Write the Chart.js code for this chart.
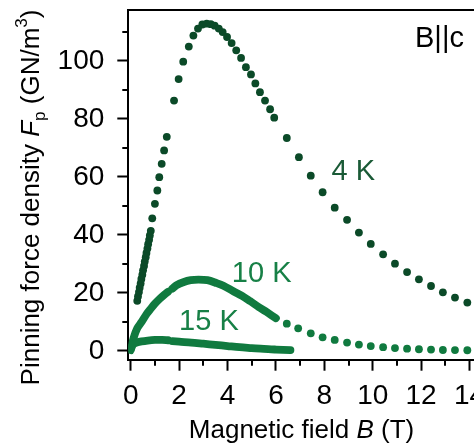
<!DOCTYPE html>
<html>
<head>
<meta charset="utf-8">
<script src="https://cdn.jsdelivr.net/npm/chart.js@4.4.0/dist/chart.umd.min.js"></script>
<style>
  html, body { margin: 0; padding: 0; background: #fff; overflow: hidden; }
  #wrap { width: 500px; height: 447px; }
</style>
</head>
<body>
<div id="wrap"><canvas id="fpChart" width="500" height="447"></canvas></div>
<script>
// field values B (T) and pinning force density Fp (GN/m^3)

// 4 K - dark dots
const field4K = [0.27, 0.30, 0.34, 0.37, 0.41, 0.44, 0.48, 0.51, 0.55, 0.58, 0.62, 0.65, 0.69, 0.72, 0.76, 0.79, 0.83,
  0.89, 1.00, 1.10, 1.18, 1.28, 1.38, 1.49, 1.79, 1.98, 2.17, 2.40, 2.59, 2.78, 2.96, 3.14, 3.31, 3.47, 3.64, 3.80,
  3.98, 4.17, 4.36, 4.56, 4.76, 4.97, 5.15, 5.34, 5.55, 5.76, 5.93, 6.45, 6.95, 7.44, 7.93, 8.43, 8.94, 9.43, 9.92,
  10.43, 10.92, 11.42, 11.91, 12.41, 12.90, 13.40, 13.91];
const fp4K = [17.3, 18.8, 20.3, 21.8, 23.3, 24.8, 26.3, 27.8, 29.3, 30.8, 32.3, 33.8, 35.3, 36.8, 38.3, 39.8, 41.4,
  45.7, 50.7, 55.3, 59.9, 64.5, 69.1, 73.8, 86.3, 93.7, 99.7, 104.9, 108.7, 111.1, 112.5, 112.8, 112.6, 112.1, 111.1, 109.9,
  108.2, 106.1, 103.6, 101.0, 97.8, 95.3, 92.2, 89.2, 86.3, 83.3, 80.4, 73.4, 66.8, 60.4, 54.7, 49.4, 45.2, 40.8, 36.9,
  33.3, 30.1, 27.2, 24.7, 22.4, 20.2, 18.4, 16.7];

// 10 K - dense part (null = measurement break)
const field10K = [0.02, 0.12, 0.27, 0.45, 0.66, 0.83, 1.00, 1.20, 1.40, 1.54, 1.62, 1.72, 1.90, 2.17, 2.48, 2.80, 3.17,
  3.55, 3.83, 4.24, 4.60, 4.93, 5.30, 5.62, 6.00];
const fp10K = [1.0, 4.5, 7.8, 10.0, 12.8, 14.6, 16.3, 18.0, 19.5, 20.4, null, 21.5, 22.7, 23.7, 24.4, 24.6, 24.4,
  23.4, 22.5, 20.6, 19.0, 17.2, 15.1, 13.4, 11.3];

// 10 K - sparse high-field part
const field10KTail = [6.45, 6.92, 7.44, 7.93, 8.43, 8.94, 9.43, 9.92, 10.43, 10.92, 11.42, 11.91, 12.41, 12.90, 13.40, 13.91];
const fp10KTail = [9.4, 7.8, 6.1, 4.7, 3.8, 2.9, 2.2, 1.7, 1.3, 1.0, 0.8, 0.6, 0.5, 0.35, 0.3, 0.25];

// 15 K - dense part
const field15K = [0.00, 0.05, 0.12, 0.25, 0.45, 0.70, 1.00, 1.30, 1.54, 1.62, 1.72, 2.00, 2.50, 3.00, 3.50, 4.00,
  4.50, 5.00, 5.50, 6.00, 6.60];
const fp15K = [0.3, 1.5, 2.4, 2.9, 3.3, 3.6, 3.8, 3.8, 3.7, null, 3.4, 3.2, 2.9, 2.5, 2.1, 1.7,
  1.3, 1.0, 0.7, 0.5, 0.3];

// axis ticks
const xMajor = [0, 2, 4, 6, 8, 10, 12, 14];
const xMinor = [1, 3, 5, 7, 9, 11, 13, 15];
const yMajor = [0, 20, 40, 60, 80, 100];
const yMinor = [10, 30, 50, 70, 90, 110];

const dark = '#0b4a28';
const mid = '#107a3f';

function pairs(xs, ys) {
  return xs.map((b, i) => ({ x: b, y: ys[i] }));
}

// minor ticks, top frame line, curve labels and axis titles
const decorations = {
  id: 'decorations',
  afterDraw(chart) {
    const ctx = chart.ctx;
    const xs = chart.scales.x;
    const ys = chart.scales.y;
    const a = chart.chartArea;
    ctx.save();
    ctx.strokeStyle = '#000';
    ctx.lineWidth = 2;
    ctx.beginPath();
    xMinor.forEach(v => {
      const px = Math.round(xs.getPixelForValue(v));
      ctx.moveTo(px, a.bottom);
      ctx.lineTo(px, a.bottom + 6);
    });
    yMinor.forEach(v => {
      const py = Math.round(ys.getPixelForValue(v));
      ctx.moveTo(a.left, py);
      ctx.lineTo(a.left - 6, py);
    });
    ctx.moveTo(a.left - 1, a.top);
    ctx.lineTo(a.right + 1, a.top);
    ctx.moveTo(a.right, a.top);
    ctx.lineTo(a.right, a.bottom);
    ctx.stroke();

    // curve labels
    const font = '"Liberation Sans", Arial, sans-serif';
    ctx.textBaseline = 'alphabetic';
    ctx.textAlign = 'left';
    ctx.font = '29px ' + font;
    ctx.fillStyle = '#1a5a36';
    ctx.fillText('4 K', xs.getPixelForValue(8.3), ys.getPixelForValue(59));
    ctx.fillStyle = '#178046';
    ctx.fillText('10 K', xs.getPixelForValue(4.18), ys.getPixelForValue(23.9));
    ctx.fillText('15 K', xs.getPixelForValue(2.0), ys.getPixelForValue(7.2));
    ctx.fillStyle = '#000';
    ctx.font = '29px ' + font;
    ctx.fillText('B||c', 415, 47);

    // rich text helper
    function runs(parts, x, y) {
      let cx = x;
      parts.forEach(p => {
        ctx.font = p.f;
        ctx.fillText(p.t, cx, y + (p.dy || 0));
        cx += ctx.measureText(p.t).width;
      });
    }
    function width(parts) {
      let w = 0;
      parts.forEach(p => { ctx.font = p.f; w += ctx.measureText(p.t).width; });
      return w;
    }

    ctx.fillStyle = '#000';
    const n = '26px ' + font;
    const it = 'italic 26px ' + font;
    const sm = '17px ' + font;

    const xTitle = [{ t: 'Magnetic field ', f: n }, { t: 'B', f: it }, { t: ' (T)', f: n }];
    runs(xTitle, 301.5 - width(xTitle) / 2, 438);

    const yTitle = [
      { t: 'Pinning force density ', f: n },
      { t: 'F', f: it },
      { t: 'p', f: sm, dy: 6 },
      { t: ' (GN/m', f: n },
      { t: '3', f: sm, dy: -12 },
      { t: ')', f: n }
    ];
    ctx.translate(39, 197.5);
    ctx.rotate(-Math.PI / 2);
    runs(yTitle, -width(yTitle) / 2, 0);
    ctx.restore();
  }
};

function makeChart() {
  const ctx = document.getElementById('fpChart').getContext('2d');
  const tickFont = { family: '"Liberation Sans", Arial, sans-serif', size: 28 };

  new Chart(ctx, {
    type: 'scatter',
    data: {
      datasets: [
        {
          label: '15 K',
          data: pairs(field15K, fp15K),
          showLine: true,
          spanGaps: false,
          borderColor: mid,
          borderWidth: 7.8,
          borderCapStyle: 'round',
          borderJoinStyle: 'round',
          pointRadius: 0,
          tension: 0.3
        },
        {
          label: '10 K',
          data: pairs(field10K, fp10K),
          showLine: true,
          spanGaps: false,
          borderColor: mid,
          borderWidth: 7.8,
          borderCapStyle: 'round',
          borderJoinStyle: 'round',
          pointRadius: 0,
          tension: 0.3
        },
        {
          label: '10 K tail',
          data: pairs(field10KTail, fp10KTail),
          backgroundColor: mid,
          borderWidth: 0,
          pointRadius: 3.9
        },
        {
          label: '4 K',
          data: pairs(field4K, fp4K),
          backgroundColor: dark,
          borderWidth: 0,
          pointRadius: 3.9
        }
      ]
    },
    options: {
      responsive: false,
      animation: false,
      layout: { padding: { top: 10, right: 6.3, bottom: 0, left: 0 } },
      plugins: {
        legend: { display: false },
        tooltip: { enabled: false }
      },
      scales: {
        x: {
          type: 'linear',
          min: -0.1,
          max: 15,
          afterFit: s => {
            s.height = 87.3;
            s.paddingLeft = 0;
            s.paddingRight = 0;
          },
          afterBuildTicks: s => { s.ticks = xMajor.map(v => ({ value: v })); },
          border: { display: true, color: '#000', width: 2 },
          grid: { drawOnChartArea: false, drawTicks: true, tickLength: 11, tickWidth: 2, tickColor: '#000' },
          ticks: { color: '#000', font: tickFont, padding: 9, maxRotation: 0, autoSkip: false },
          title: { display: false }
        },
        y: {
          type: 'linear',
          min: -3,
          max: 117.5,
          afterFit: s => {
            s.width = 128.3;
            s.paddingTop = 0;
            s.paddingBottom = 0;
          },
          afterBuildTicks: s => { s.ticks = yMajor.map(v => ({ value: v })); },
          border: { display: true, color: '#000', width: 2 },
          grid: { drawOnChartArea: false, drawTicks: true, tickLength: 11, tickWidth: 2, tickColor: '#000' },
          ticks: { color: '#000', font: tickFont, padding: 13 },
          title: { display: false }
        }
      }
    },
    plugins: [decorations]
  });
}

makeChart();
</script>
</body>
</html>
